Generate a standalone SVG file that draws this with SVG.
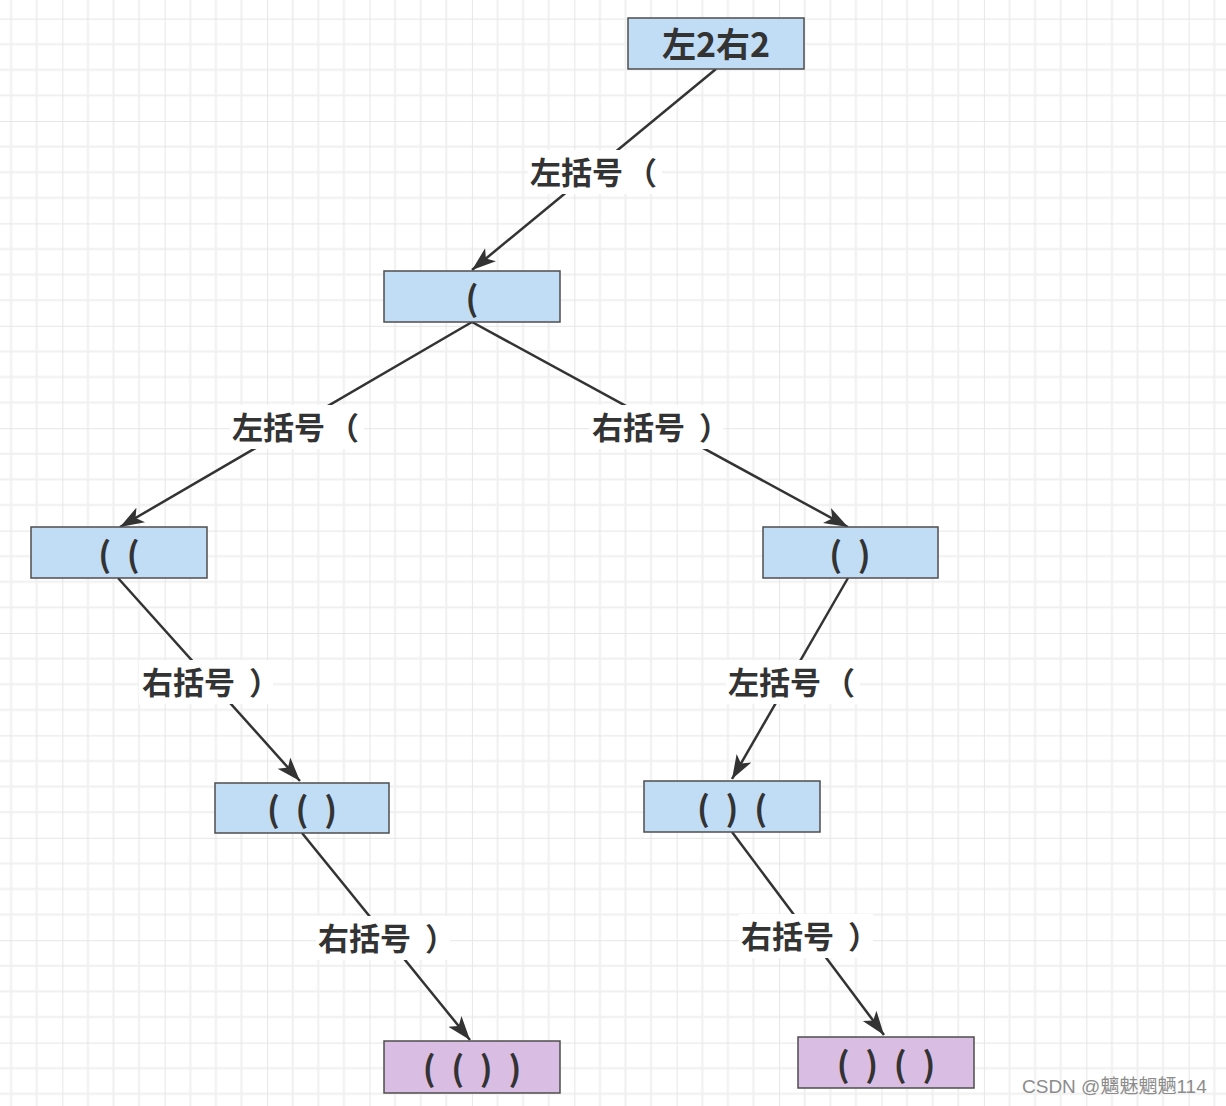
<svg xmlns="http://www.w3.org/2000/svg" width="1226" height="1106" viewBox="0 0 1226 1106">
<defs>
<pattern id="grid" patternUnits="userSpaceOnUse" x="62.3" y="121" width="102.4" height="102.4">
<path d="M25.6,0V102.4M51.2,0V102.4M76.8,0V102.4M0,25.6H102.4M0,51.2H102.4M0,76.8H102.4" stroke="#f0f0f0" stroke-width="2" fill="none"/>
<path d="M0,0V102.4M0,0H102.4" stroke="#e6e6e6" stroke-width="2" fill="none"/>
</pattern>
<marker id="arr" markerUnits="userSpaceOnUse" markerWidth="26" markerHeight="20" viewBox="0 0 26 20" refX="24" refY="10" orient="auto">
<path d="M0,1.5 L24,10 L0,18.5 L6,10 Z" fill="#333333"/>
</marker>
<style>
.node rect{stroke:#4d4d4d;stroke-width:1.5}
.blue{fill:#c1ddf6}
.purple{fill:#dabde3}
.ntext{font-family:"Noto Sans CJK SC","Noto Sans",sans-serif;font-weight:bold;font-size:34px;fill:#333333;text-anchor:middle;dominant-baseline:central}
.edge{stroke:#333333;stroke-width:2.5;fill:none;marker-end:url(#arr)}
.lbg{fill:#ffffff}
.ltext{font-family:"Noto Sans CJK SC",sans-serif;font-weight:bold;font-size:31px;fill:#333333;dominant-baseline:central}
.wm{font-family:"Liberation Sans","Noto Sans CJK SC",sans-serif;font-size:19px;fill:#8c8c8c}
</style>
</defs>
<rect width="1226" height="1106" fill="#ffffff"/>
<rect width="1226" height="1106" fill="url(#grid)"/>

<g id="connectors">
<g id="e1"><line class="edge" x1="716" y1="69" x2="472" y2="270"/><rect class="lbg" x="528" y="150" width="134" height="44"/><text class="ltext" x="530" y="170">左括号<tspan dx="3">（</tspan></text></g>
<g id="e2"><line class="edge" x1="472" y1="322" x2="120" y2="527"/><rect class="lbg" x="230" y="405" width="134" height="44"/><text class="ltext" x="232" y="425">左括号<tspan dx="3">（</tspan></text></g>
<g id="e3"><line class="edge" x1="472" y1="322" x2="848" y2="527"/><rect class="lbg" x="589" y="405" width="134" height="44"/><text class="ltext" x="592" y="425">右括号<tspan dx="14">）</tspan></text></g>
<g id="e4"><line class="edge" x1="118" y1="578" x2="300" y2="781"/><rect class="lbg" x="139" y="660" width="134" height="44"/><text class="ltext" x="142" y="680">右括号<tspan dx="14">）</tspan></text></g>
<g id="e5"><line class="edge" x1="848" y1="578" x2="732" y2="779"/><rect class="lbg" x="726" y="660" width="134" height="44"/><text class="ltext" x="728" y="680">左括号<tspan dx="3">（</tspan></text></g>
<g id="e6"><line class="edge" x1="302" y1="833" x2="470" y2="1040"/><rect class="lbg" x="316" y="916" width="134" height="44"/><text class="ltext" x="318" y="936">右括号<tspan dx="14">）</tspan></text></g>
<g id="e7"><line class="edge" x1="732" y1="832" x2="884" y2="1035"/><rect class="lbg" x="739" y="914" width="134" height="44"/><text class="ltext" x="741" y="934">右括号<tspan dx="14">）</tspan></text></g>
</g>

<g id="n1" class="node"><rect class="blue" x="628" y="18" width="176" height="51"/><text class="ntext" x="716" y="42">左2右2</text></g>
<g id="n2" class="node"><rect class="blue" x="384" y="271" width="176" height="51"/><text class="ntext" x="472" y="296">(</text></g>
<g id="n3" class="node"><rect class="blue" x="31" y="527" width="176" height="51"/><text class="ntext" x="121" y="552" letter-spacing="4">( (</text></g>
<g id="n4" class="node"><rect class="blue" x="763" y="527" width="175" height="51"/><text class="ntext" x="852" y="552" letter-spacing="4">( )</text></g>
<g id="n5" class="node"><rect class="blue" x="215" y="783" width="174" height="50"/><text class="ntext" x="304" y="807" letter-spacing="4">( ( )</text></g>
<g id="n6" class="node"><rect class="blue" x="644" y="781" width="176" height="51"/><text class="ntext" x="734" y="806" letter-spacing="4">( ) (</text></g>
<g id="n7" class="node"><rect class="purple" x="384" y="1041" width="176" height="52"/><text class="ntext" x="474" y="1066" letter-spacing="4">( ( ) )</text></g>
<g id="n8" class="node"><rect class="purple" x="798" y="1037" width="176" height="51"/><text class="ntext" x="888" y="1062" letter-spacing="4">( ) ( )</text></g>

<text class="wm" x="1022" y="1093">CSDN @魑魅魍魉114</text>
</svg>
